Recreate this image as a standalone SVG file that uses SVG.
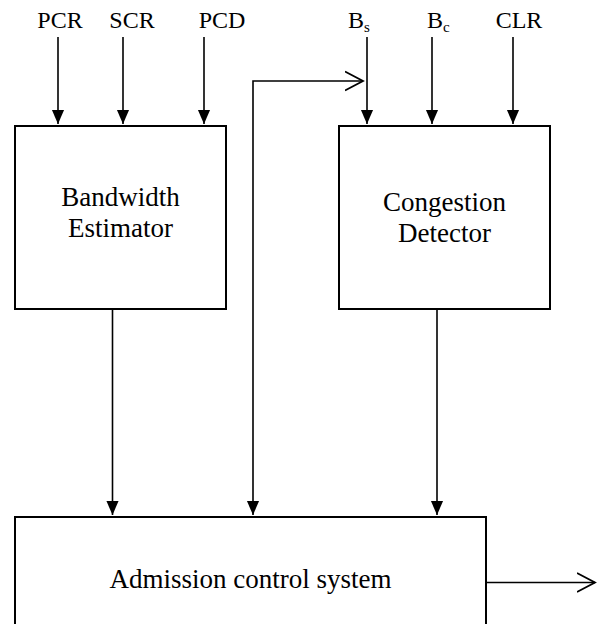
<svg xmlns="http://www.w3.org/2000/svg" width="605" height="624" viewBox="0 0 605 624">
<style>
  .box { fill: #fff; stroke: #000; stroke-width: 2; }
  .wire { fill: none; stroke: #000; stroke-width: 1.6; }
  .lbl { font-family: "Liberation Serif", "Times New Roman", serif; font-size: 24px; fill: #000; }
  .btxt { font-family: "Liberation Serif", "Times New Roman", serif; font-size: 27px; fill: #000; text-anchor: middle; }
</style>
<defs>
  <marker id="fill" markerWidth="14" markerHeight="16" refX="15" refY="6.5" viewBox="0 0 15 13" markerUnits="userSpaceOnUse" orient="auto">
    <path d="M0,0 L15,6.5 L0,13 Z" fill="#000"/>
  </marker>
  <marker id="open" markerWidth="20" markerHeight="22" refX="18" refY="10" viewBox="0 0 20 20" markerUnits="userSpaceOnUse" orient="auto-start-reverse">
    <path d="M0,0.5 L18,10 L0,19.5" fill="none" stroke="#000" stroke-width="1.8"/>
  </marker>
</defs>

<g id="inputs">
  <text class="lbl" x="60" y="28" text-anchor="middle">PCR</text>
  <text class="lbl" x="132" y="28" text-anchor="middle">SCR</text>
  <text class="lbl" x="222" y="28" text-anchor="middle">PCD</text>
  <text class="lbl" x="348" y="28">B<tspan font-size="15" dy="4">s</tspan></text>
  <text class="lbl" x="427" y="28">B<tspan font-size="15" dy="4">c</tspan></text>
  <text class="lbl" x="519" y="28" text-anchor="middle" font-size="21">CLR</text>
</g>

<g id="bandwidth-estimator">
  <rect class="box" x="15" y="126" width="211" height="183"/>
  <text class="btxt" x="120.5" y="206">Bandwidth</text>
  <text class="btxt" x="120.5" y="237">Estimator</text>
</g>

<g id="congestion-detector">
  <rect class="box" x="339" y="126" width="211" height="183"/>
  <text class="btxt" x="444.5" y="211">Congestion</text>
  <text class="btxt" x="444.5" y="242">Detector</text>
</g>

<g id="admission-control">
  <rect class="box" x="15" y="517" width="471" height="120"/>
  <text class="btxt" x="250.5" y="588">Admission control system</text>
</g>

<g id="connectors">
  <line class="wire" x1="58" y1="37" x2="58" y2="124" marker-end="url(#fill)"/>
  <line class="wire" x1="123" y1="37" x2="123" y2="124" marker-end="url(#fill)"/>
  <line class="wire" x1="204" y1="37" x2="204" y2="124" marker-end="url(#fill)"/>
  <line class="wire" x1="367" y1="37" x2="367" y2="124" marker-end="url(#fill)"/>
  <line class="wire" x1="432" y1="37" x2="432" y2="124" marker-end="url(#fill)"/>
  <line class="wire" x1="513" y1="37" x2="513" y2="124" marker-end="url(#fill)"/>
  <line class="wire" x1="112.5" y1="309" x2="112.5" y2="515" marker-end="url(#fill)"/>
  <line class="wire" x1="437" y1="309" x2="437" y2="515" marker-end="url(#fill)"/>
  <path class="wire" d="M363,81 H253 V515" marker-start="url(#open)" marker-end="url(#fill)"/>
  <line class="wire" x1="486" y1="582.5" x2="595" y2="582.5" marker-end="url(#open)"/>
</g>
</svg>
